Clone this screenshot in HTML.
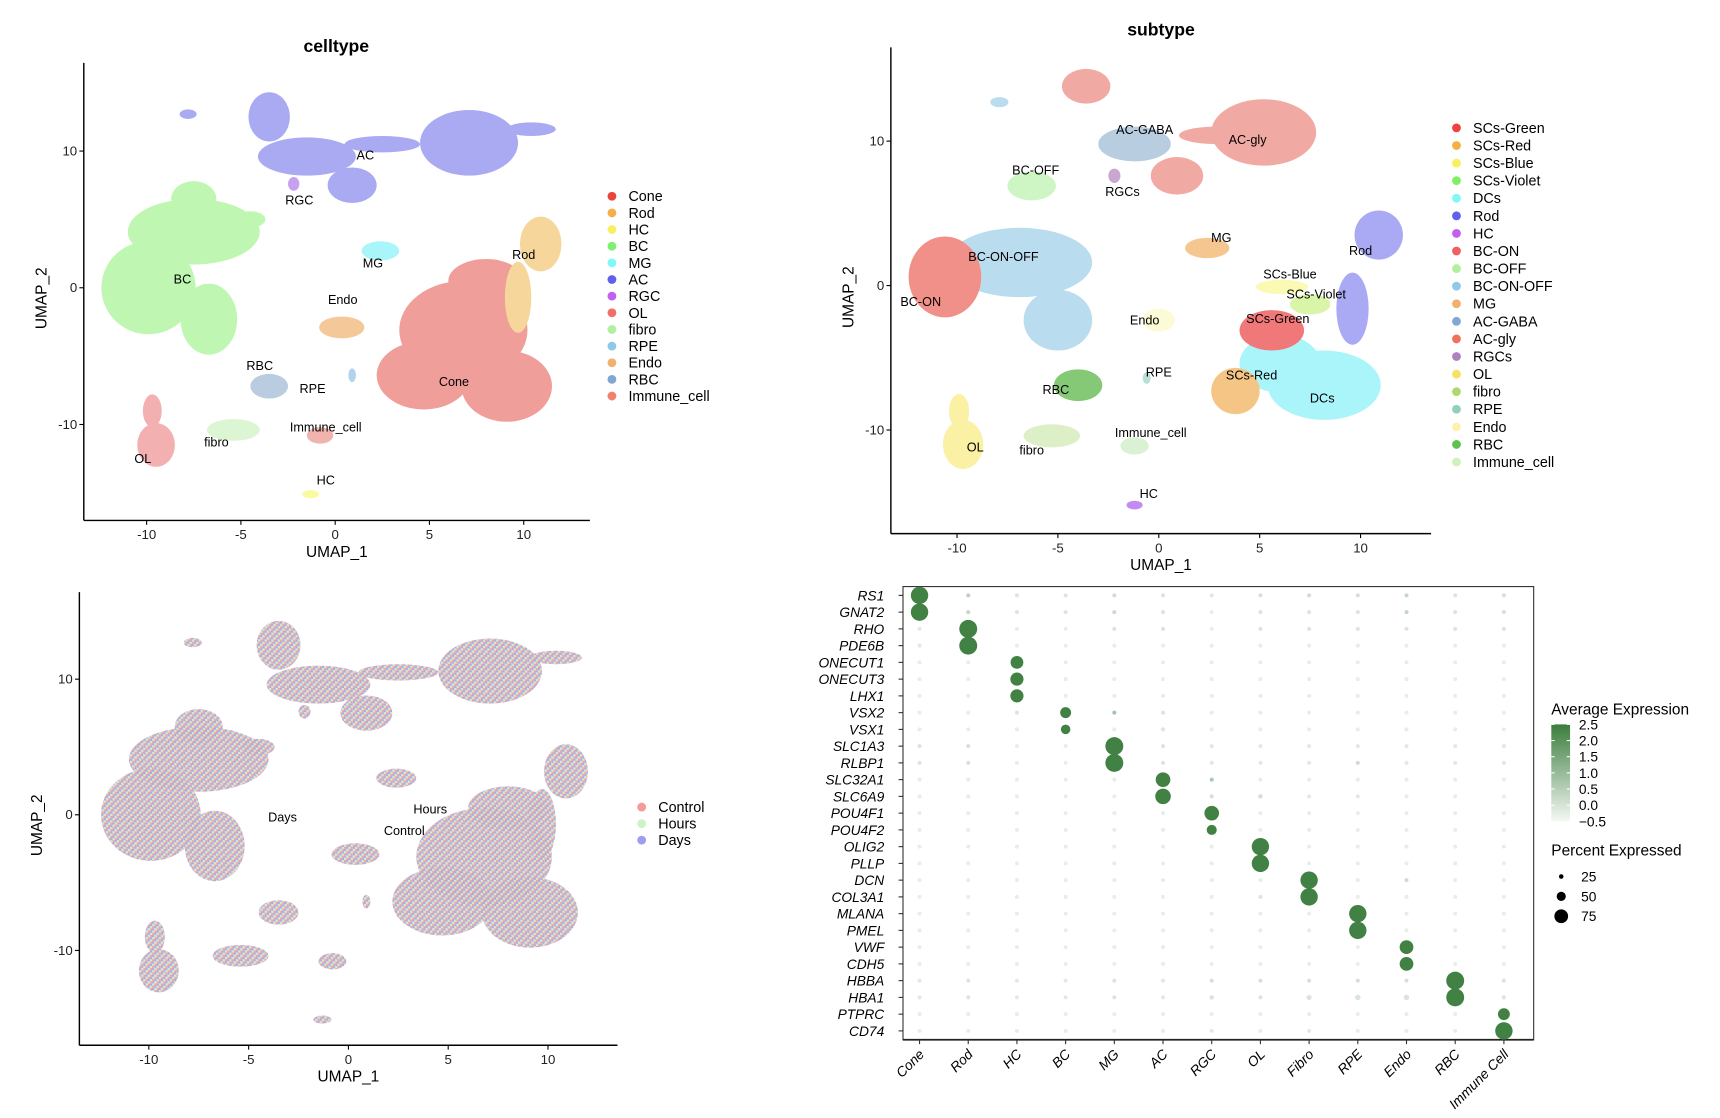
<!DOCTYPE html>
<html><head><meta charset="utf-8">
<style>
html,body{margin:0;padding:0;background:#fff;}
svg{display:block;font-family:"Liberation Sans",sans-serif;}
</style></head>
<body>
<svg id="fig" width="1720" height="1118" viewBox="0 0 1560 1014" preserveAspectRatio="none" xmlns="http://www.w3.org/2000/svg">
<defs>
<pattern id="speckle" width="6" height="6" patternUnits="userSpaceOnUse">
<rect x="0" y="0" width="2" height="2" fill="#f2a3a3"/><rect x="2" y="0" width="2" height="2" fill="#a9a9ee"/><rect x="4" y="0" width="2" height="2" fill="#cdeec6"/>
<rect x="0" y="2" width="2" height="2" fill="#a9a9ee"/><rect x="2" y="2" width="2" height="2" fill="#cdeec6"/><rect x="4" y="2" width="2" height="2" fill="#f2a3a3"/>
<rect x="0" y="4" width="2" height="2" fill="#cdeec6"/><rect x="2" y="4" width="2" height="2" fill="#f2a3a3"/><rect x="4" y="4" width="2" height="2" fill="#a9a9ee"/>
</pattern>
<linearGradient id="cbar" x1="0" y1="1" x2="0" y2="0">
<stop offset="0" stop-color="#f4f8f4"/><stop offset="1" stop-color="#3b7d3d"/>
</linearGradient>
</defs>
</svg>
<script>
// ---------- DATA ----------
const umapTicks = [-10, -5, 0, 5, 10];
const umapYTicks = [10, 0, -10];
const celltypeNames = ["AC","BC","Cone","Rod","MG","Endo","RBC","RPE","OL","fibro","Immune_cell","HC","RGC"];
const celltypeColors = ["#aaaaf2","#bff6b2","#f09e9a","#f7d69c","#a9f6fa","#f4c898","#b9cce0","#b2d2ee","#f2b0b0","#dcf6d4","#f0b3ad","#fafaa2","#c8a0f0"];
const celltypeShapes = [
 [[-3.5,12.5,1.1,1.8],[-1.5,9.6,2.6,1.4],[7.1,10.6,2.6,2.4],[0.9,7.5,1.3,1.3],[-7.8,12.7,0.45,0.35],[10.4,11.6,1.3,0.5],[2.5,10.5,2,0.6]],
 [[-9.9,0,2.5,3.4],[-7.5,4.1,3.5,2.4],[-7.5,6.5,1.2,1.3],[-6.7,-2.3,1.5,2.6],[-4.5,5,0.8,0.6]],
 [[6.8,-3.1,3.4,3.6],[4.7,-6.4,2.5,2.5],[9.1,-7.2,2.4,2.6],[8,0.5,2,1.6]],
 [[10.9,3.2,1.1,2],[9.7,-0.7,0.7,2.6]],
 [[2.4,2.7,1,0.7]],
 [[0.35,-2.9,1.2,0.8]],
 [[-3.5,-7.2,1,0.9]],
 [[0.9,-6.4,0.2,0.5]],
 [[-9.5,-11.5,1,1.6],[-9.7,-9,0.5,1.2]],
 [[-5.4,-10.4,1.4,0.8]],
 [[-0.8,-10.8,0.7,0.6]],
 [[-1.3,-15.1,0.45,0.3]],
 [[-2.2,7.6,0.3,0.5]]
];
const celltypeLabels = [["AC",1.6,9.4],["RGC",-1.9,6.1],["BC",-8.1,0.3],["MG",2.0,1.5],["Rod",10.0,2.1],["Endo",0.4,-1.2],["Cone",6.3,-7.2],["RBC",-4,-6],["RPE",-1.2,-7.7],["Immune_cell",-0.5,-10.5],["fibro",-6.3,-11.6],["OL",-10.2,-12.8],["HC",-0.5,-14.4]];
const legend1 = ["Cone","Rod","HC","BC","MG","AC","RGC","OL","fibro","RPE","Endo","RBC","Immune_cell"];
const legend1Colors = ["#e8453c","#f5b04a","#f8f060","#80f070","#80f8f8","#6060f0","#c060f0","#f07068","#b0f0a0","#90c8e8","#f0b070","#80a8d0","#f08070"];

const subtypeNames = ["AC-gly","AC-GABA","BC-ON-OFF","BC-ON","BC-OFF","MG","Rod","DCs","SCs-Green","SCs-Red","SCs-Blue","SCs-Violet","Endo","RBC","RPE","OL","fibro","Immune_cell","HC","RGCs"];
const subtypeColors = ["#f0aaa3","#b9cde0","#badcef","#f09088","#cdf6c4","#f5c690","#aaaaf4","#a9f5fa","#f07878","#f5c585","#fafab4","#d8f5a8","#fcfbd8","#85c875","#b8e0d8","#fbf1a4","#dcefc6","#dbf1d4","#c48af2","#c8a8d0"];
const subtypeShapes = [
 [[5.2,10.6,2.6,2.3],[-3.6,13.8,1.2,1.2],[0.9,7.6,1.3,1.3],[2.8,10.4,1.8,0.6]],
 [[-1.2,9.8,1.8,1.2]],
 [[-6.9,1.6,3.6,2.4],[-5,-2.4,1.7,2.1],[-7.9,12.7,0.45,0.35]],
 [[-10.6,0.6,1.8,2.8]],
 [[-6.3,6.9,1.2,1.0]],
 [[2.4,2.6,1.1,0.7]],
 [[10.9,3.5,1.2,1.7],[9.6,-1.6,0.8,2.5]],
 [[8.2,-6.9,2.8,2.4],[6,-5.4,2,2]],
 [[5.6,-3.1,1.6,1.4]],
 [[3.8,-7.3,1.2,1.6]],
 [[6.1,-0.1,1.3,0.5]],
 [[7.5,-1.3,1.0,0.7]],
 [[0,-2.4,0.8,0.8]],
 [[-4,-6.9,1.2,1.1]],
 [[-0.6,-6.4,0.2,0.4]],
 [[-9.7,-11,1,1.7],[-9.9,-8.7,0.5,1.2]],
 [[-5.3,-10.4,1.4,0.8]],
 [[-1.2,-11.1,0.7,0.6]],
 [[-1.2,-15.2,0.4,0.3]],
 [[-2.2,7.6,0.3,0.5]]
];
const subtypeLabels = [["AC-GABA",-0.7,10.5],["AC-gly",4.4,9.8],["BC-OFF",-6.1,7.7],["RGCs",-1.8,6.2],["MG",3.1,3.0],["BC-ON-OFF",-7.7,1.7],["Rod",10.0,2.1],["SCs-Blue",6.5,0.5],["SCs-Violet",7.8,-0.9],["BC-ON",-11.8,-1.4],["Endo",-0.7,-2.7],["SCs-Green",5.9,-2.6],["RPE",0,-6.3],["SCs-Red",4.6,-6.5],["RBC",-5.1,-7.5],["DCs",8.1,-8.1],["OL",-9.1,-11.5],["fibro",-6.3,-11.7],["Immune_cell",-0.4,-10.5],["HC",-0.5,-14.7]];
const legend2 = ["SCs-Green","SCs-Red","SCs-Blue","SCs-Violet","DCs","Rod","HC","BC-ON","BC-OFF","BC-ON-OFF","MG","AC-GABA","AC-gly","RGCs","OL","fibro","RPE","Endo","RBC","Immune_cell"];
const legend2Colors = ["#f04040","#f5b040","#f8f060","#80f060","#80f8f8","#6060f0","#c060f0","#f06060","#b0f0a0","#90c8e8","#f0b070","#80a8d0","#f07060","#b080c0","#f8e060","#b0d870","#90d0c0","#fff0b0","#60c050","#d0f0c0"];

const legend3 = ["Control","Hours","Days"];
const legend3Colors = ["#f39b9b","#ccf3c4","#9e9ef0"];
const conditionLabels = [["Days",-3.3,-0.5],["Hours",4.1,0.1],["Control",2.8,-1.5]];

const genes = ["RS1","GNAT2","RHO","PDE6B","ONECUT1","ONECUT3","LHX1","VSX2","VSX1","SLC1A3","RLBP1","SLC32A1","SLC6A9","POU4F1","POU4F2","OLIG2","PLLP","DCN","COL3A1","MLANA","PMEL","VWF","CDH5","HBBA","HBA1","PTPRC","CD74"];
const cellTypes = ["Cone","Rod","HC","BC","MG","AC","RGC","OL","Fibro","RPE","Endo","RBC","Immune Cell"];
const pct = [
[95,22,8,8,12,8,6,10,12,10,14,8,10],
[95,22,8,8,14,8,6,12,8,10,14,8,10],
[6,98,3,3,5,5,3,6,6,6,6,5,5],
[5,98,3,3,3,3,3,3,3,3,3,3,3],
[3,3,70,3,3,3,3,3,3,3,3,3,3],
[3,3,72,3,3,3,3,3,3,3,3,3,3],
[3,3,72,3,3,3,3,3,3,3,3,3,3],
[3,3,5,60,14,5,3,3,3,3,3,3,3],
[3,3,3,52,3,5,3,3,3,3,3,3,3],
[8,8,3,3,98,8,5,5,5,5,5,5,5],
[8,8,3,3,98,6,5,5,5,10,5,5,5],
[3,3,3,3,3,80,10,3,3,3,3,3,3],
[3,3,3,3,3,85,20,25,5,5,3,3,3],
[3,3,3,3,3,3,80,3,3,3,3,3,3],
[3,3,3,3,3,3,55,3,3,3,3,3,3],
[3,3,3,3,3,3,3,95,3,3,3,3,3],
[3,3,3,3,3,3,3,95,3,3,3,3,3],
[3,3,3,3,3,3,3,3,95,3,8,3,3],
[3,3,3,3,3,3,3,8,95,3,3,3,3],
[3,3,3,3,3,3,3,3,3,95,3,3,3],
[3,3,3,3,3,3,3,3,3,95,3,3,3],
[3,3,3,3,3,3,3,3,3,3,75,3,3],
[3,3,3,3,3,3,3,3,3,3,75,3,3],
[8,8,5,5,8,5,18,12,18,20,20,98,8],
[10,12,5,5,12,8,25,15,28,30,30,98,10],
[3,3,3,3,3,3,3,3,3,3,3,3,65],
[3,3,3,3,3,3,5,3,6,3,3,3,95]
];
const avg = [
[2.4,0.3,-0.2,-0.2,0,-0.2,-0.3,-0.1,0,-0.1,0.2,-0.2,-0.1],
[2.4,0.2,-0.2,-0.2,0.1,-0.2,-0.4,-0.2,-0.2,-0.2,0.2,-0.2,-0.1],
[-0.3,2.4,-0.4,-0.4,-0.2,-0.2,-0.4,-0.2,-0.2,-0.2,-0.2,-0.2,-0.2],
[-0.3,2.4,-0.4,-0.4,-0.4,-0.4,-0.4,-0.4,-0.4,-0.4,-0.4,-0.4,-0.4],
[-0.4,-0.4,2.4,-0.4,-0.4,-0.4,-0.4,-0.4,-0.4,-0.4,-0.4,-0.4,-0.4],
[-0.4,-0.4,2.4,-0.4,-0.4,-0.4,-0.4,-0.4,-0.4,-0.4,-0.4,-0.4,-0.4],
[-0.4,-0.4,2.4,-0.4,-0.4,-0.4,-0.4,-0.4,-0.4,-0.4,-0.4,-0.4,-0.4],
[-0.4,-0.4,-0.2,2.4,0.7,-0.2,-0.4,-0.4,-0.4,-0.4,-0.4,-0.4,-0.4],
[-0.4,-0.4,-0.4,2.4,-0.4,-0.2,-0.4,-0.4,-0.4,-0.4,-0.4,-0.4,-0.4],
[-0.2,-0.1,-0.4,-0.4,2.4,-0.2,-0.3,-0.3,-0.3,-0.3,-0.3,-0.3,-0.3],
[-0.2,-0.1,-0.4,-0.4,2.4,-0.2,-0.3,-0.3,-0.3,0,-0.3,-0.3,-0.3],
[-0.4,-0.4,-0.4,-0.4,-0.4,2.4,0.6,-0.4,-0.4,-0.4,-0.4,-0.4,-0.4],
[-0.4,-0.4,-0.4,-0.4,-0.4,2.4,-0.1,-0.1,-0.3,-0.3,-0.4,-0.4,-0.4],
[-0.4,-0.4,-0.4,-0.4,-0.4,-0.4,2.4,-0.4,-0.4,-0.4,-0.4,-0.4,-0.4],
[-0.4,-0.4,-0.4,-0.4,-0.4,-0.4,2.4,-0.4,-0.4,-0.4,-0.4,-0.4,-0.4],
[-0.4,-0.4,-0.4,-0.4,-0.4,-0.4,-0.4,2.4,-0.4,-0.4,-0.4,-0.4,-0.4],
[-0.4,-0.4,-0.4,-0.4,-0.4,-0.4,-0.4,2.4,-0.4,-0.4,-0.4,-0.4,-0.4],
[-0.4,-0.4,-0.4,-0.4,-0.4,-0.4,-0.4,-0.4,2.4,-0.4,0,-0.4,-0.4],
[-0.4,-0.4,-0.4,-0.4,-0.4,-0.4,-0.4,-0.2,2.4,-0.4,-0.4,-0.4,-0.4],
[-0.4,-0.4,-0.4,-0.4,-0.4,-0.4,-0.4,-0.4,-0.4,2.4,-0.4,-0.4,-0.4],
[-0.4,-0.4,-0.4,-0.4,-0.4,-0.4,-0.4,-0.4,-0.4,2.4,-0.4,-0.4,-0.4],
[-0.4,-0.4,-0.4,-0.4,-0.4,-0.4,-0.4,-0.4,-0.4,-0.4,2.4,-0.4,-0.4],
[-0.4,-0.4,-0.4,-0.4,-0.4,-0.4,-0.4,-0.4,-0.4,-0.4,2.4,-0.4,-0.4],
[-0.3,-0.2,-0.3,-0.3,-0.2,-0.3,-0.1,-0.1,-0.1,-0.1,-0.1,2.4,-0.2],
[-0.3,-0.2,-0.3,-0.3,-0.2,-0.3,-0.2,-0.2,-0.2,-0.2,-0.2,2.4,-0.2],
[-0.4,-0.4,-0.4,-0.4,-0.4,-0.4,-0.4,-0.4,-0.4,-0.4,-0.4,-0.4,2.4],
[-0.4,-0.4,-0.4,-0.4,-0.4,-0.4,-0.3,-0.4,-0.3,-0.4,-0.4,-0.4,2.4]
];
const colorTicks = [2.5,2.0,1.5,1.0,0.5,0.0,-0.5];
const sizeTicks = [25,50,75];

// ---------- DRAWING ----------
const NS = "http://www.w3.org/2000/svg";
const svg = document.getElementById("fig");
function mk(tag, attrs, parent, text){
  const e = document.createElementNS(NS, tag);
  for (const k in attrs) e.setAttribute(k, attrs[k]);
  if (text !== undefined) e.textContent = text;
  (parent || svg).appendChild(e);
  return e;
}
function linScale(d0,d1,r0,r1){ return v => r0 + (v-d0)/(d1-d0)*(r1-r0); }

function umapPanel(cfg){
  const g = mk("g", {});
  
  
  const sx = linScale(0,10,cfg.x0,cfg.x10), sy = linScale(0,10,cfg.y0,cfg.y10);
  const kx = (cfg.x10-cfg.x0)/10, ky = (cfg.y0-cfg.y10)/10;
  cfg.shapes.forEach((shapes,i)=>{
    const cg = mk("g", {fill: cfg.fill ? cfg.fill : cfg.colors[i]}, g);
    
    
    shapes.forEach(s=>{
      mk("ellipse", {cx: sx(s[0]), cy: sy(s[1]), rx: s[2]*kx, ry: s[3]*ky}, cg);
    });
  });
  cfg.labels.forEach(l=>{
    const t = mk("text", {x: sx(l[1]), y: sy(l[2]), "font-size": 11.5, "text-anchor":"middle", fill:"#000"}, g, l[0]);
    
    
  });
  const ax = mk("g", {stroke:"#000","stroke-width":1.3}, g);
  
  
  mk("line", {x1: cfg.left, y1: cfg.top, x2: cfg.left, y2: cfg.bottom}, ax);
  mk("line", {x1: cfg.left, y1: cfg.bottom, x2: cfg.right, y2: cfg.bottom}, ax);
  umapTicks.forEach(v=>{
    mk("line", {x1: sx(v), y1: cfg.bottom, x2: sx(v), y2: cfg.bottom+4, "stroke-width":1}, ax);
    const t = mk("text", {x: sx(v), y: cfg.bottom+17, "font-size": 12, "text-anchor":"middle", fill:"#222"}, g, String(v));
    
    
  });
  umapYTicks.forEach(v=>{
    mk("line", {x1: cfg.left-4, y1: sy(v), x2: cfg.left, y2: sy(v), "stroke-width":1}, ax);
    const t = mk("text", {x: cfg.left-6, y: sy(v)+4, "font-size": 12, "text-anchor":"end", fill:"#222"}, g, String(v));
    
    
  });
  const xt = mk("text", {x: (cfg.left+cfg.right)/2, y: cfg.bottom+33, "font-size": 14, "text-anchor":"middle"}, g, "UMAP_1");
  
  
  const yc = (cfg.top+cfg.bottom)/2 + 6;
  const yt = mk("text", {x: cfg.left-34, y: yc, "font-size": 14, "text-anchor":"middle", transform:`rotate(-90 ${cfg.left-34} ${yc})`}, g, "UMAP_2");
  
  
  if (cfg.title){
    const tt = mk("text", {x: cfg.titleX, y: cfg.titleY, "font-size": 16, "font-weight":"bold", "text-anchor":"middle"}, g, cfg.title);
    
    
  }
  const lg = mk("g", {}, g);
  
  
  cfg.legend.forEach((n,i)=>{
    const y = cfg.legY + i*cfg.legStep;
    const e = mk("g", {}, lg);
    
    
    mk("circle", {cx: cfg.legX, cy: y, r: 4, fill: cfg.legendColors[i]}, e);
    mk("text", {x: cfg.legX+15, y: y+4.5, "font-size": 13}, e, n);
  });
}

umapPanel({name:"celltype-umap", names: celltypeNames, colors: celltypeColors, shapes: celltypeShapes, labels: celltypeLabels,
  x0:304, x10:475, y0:261, y10:137, left:76, right:535, top:57, bottom:472,
  title:"celltype", titleX:305, titleY:47, legend: legend1, legendColors: legend1Colors, legX:555, legY:178, legStep:15.1});
umapPanel({name:"subtype-umap", names: subtypeNames, colors: subtypeColors, shapes: subtypeShapes, labels: subtypeLabels,
  x0:1051, x10:1234, y0:259, y10:128, left:808, right:1298, top:43, bottom:484,
  title:"subtype", titleX:1053, titleY:32, legend: legend2, legendColors: legend2Colors, legX:1321, legY:116, legStep:15.95});
umapPanel({name:"condition-umap", names: celltypeNames, colors: celltypeColors, shapes: celltypeShapes, labels: conditionLabels, fill:"url(#speckle)",
  x0:316, x10:497, y0:739, y10:616, left:72, right:560, top:537, bottom:948,
  title:null, legend: legend3, legendColors: legend3Colors, legX:582, legY:732, legStep:15});

(function(){
  const g = mk("g", {});
  
  
  const L=819, R=1391, T=532, B=943;
  const xs = linScale(0, cellTypes.length-1, 834, 1364);
  const ys = linScale(0, genes.length-1, 540, 935);
  const rs = v => Math.max(1.8, v/100*8.3);
  const c0=[236,242,236], c1=[59,125,61];
  const col = a => { const t=Math.max(0,Math.min(1,(a+0.5)/3)); return `rgb(${c0.map((c,i)=>Math.round(c+(c1[i]-c)*t)).join(',')})`; };
  const box = mk("rect", {x:L, y:T, width:R-L, height:B-T, fill:"#fff", stroke:"#333", "stroke-width":1}, g);
  
  
  mk("line", {x1:L, y1:B, x2:R, y2:B, stroke:"#222", "stroke-width":1.6}, g);
  genes.forEach((gn,i)=>{
    mk("line", {x1:L-4, y1:ys(i), x2:L, y2:ys(i), stroke:"#333"}, g);
    const t = mk("text", {x:L-17, y:ys(i)+4.5, "font-size":12.5, "font-style":"italic", "text-anchor":"end"}, g, gn);
    
    
  });
  cellTypes.forEach((c,j)=>{
    mk("line", {x1:xs(j), y1:B, x2:xs(j), y2:B+4, stroke:"#333"}, g);
    const x=xs(j)+5, y=B+14;
    const t = mk("text", {x:x, y:y, "font-size":12.5, "font-style":"italic", "text-anchor":"end", transform:`rotate(-45 ${x} ${y})`}, g, c);
    
    
  });
  pct.forEach((row,i)=>row.forEach((p,j)=>{
    const d = mk("circle", {cx:xs(j), cy:ys(i), r:rs(p), fill:col(avg[i][j])}, g);
    
    
  }));
  const lg = mk("g", {}, g);
  
  
  mk("text", {x:1407, y:648, "font-size":14}, lg, "Average Expression");
  const cs = linScale(-0.5, 2.5, 745, 657);
  mk("rect", {x:1407, y:cs(2.5), width:17, height:cs(-0.5)-cs(2.5), fill:"url(#cbar)"}, lg);
  colorTicks.forEach(v=>{
    mk("line", {x1:1407, y1:cs(v), x2:1410, y2:cs(v), stroke:"#fff"}, lg);
    mk("line", {x1:1421, y1:cs(v), x2:1424, y2:cs(v), stroke:"#fff"}, lg);
    mk("text", {x:1432, y:cs(v)+4.5, "font-size":12.5}, lg, v===-0.5 ? "\u22120.5" : v.toFixed(1));
  });
  const sl = mk("g", {}, g);
  
  
  mk("text", {x:1407, y:776, "font-size":14}, sl, "Percent Expressed");
  sizeTicks.forEach((v,i)=>{
    const y = 795 + i*18;
    mk("circle", {cx:1416, cy:y, r:rs(v), fill:"#000"}, sl);
    mk("text", {x:1434, y:y+4.5, "font-size":12.5}, sl, String(v));
  });
})();
</script>
</body></html>
